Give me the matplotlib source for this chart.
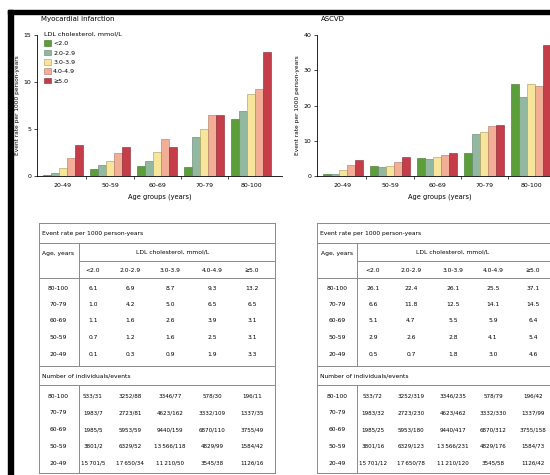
import numpy as np
import matplotlib.pyplot as plt
from matplotlib.patches import Rectangle

ages = ['20-49', '50-59', '60-69', '70-79', '80-100']
ldl = ['<2.0', '2.0-2.9', '3.0-3.9', '4.0-4.9', '≥5.0']
colors = ['#5c9e3a', '#93b8a2', '#f8e59c', '#f2ae96', '#c53d49']
edges = ['#3f6e28', '#5f7f6c', '#a89a55', '#b07560', '#842630']

# event rates per 1000 person-years (rows: age groups, cols: LDL bands)
mi_rate = np.array([
    [0.1, 0.3, 0.9, 1.9, 3.3],
    [0.7, 1.2, 1.6, 2.5, 3.1],
    [1.1, 1.6, 2.6, 3.9, 3.1],
    [1.0, 4.2, 5.0, 6.5, 6.5],
    [6.1, 6.9, 8.7, 9.3, 13.2],
])
ascvd_rate = np.array([
    [0.5, 0.7, 1.8, 3.0, 4.6],
    [2.9, 2.6, 2.8, 4.1, 5.4],
    [5.1, 4.7, 5.5, 5.9, 6.4],
    [6.6, 11.8, 12.5, 14.1, 14.5],
    [26.1, 22.4, 26.1, 25.5, 37.1],
])

individuals = np.array([
    [15701, 17650, 11210, 3545, 1126],
    [3801, 6329, 13566, 4829, 1584],
    [1985, 5953, 9440, 6870, 3755],
    [1983, 2723, 4623, 3332, 1337],
    [533, 3252, 3346, 578, 196],
])
mi_events = np.array([
    [5, 34, 50, 38, 16],
    [2, 52, 118, 99, 42],
    [5, 59, 159, 110, 49],
    [7, 81, 162, 109, 35],
    [31, 88, 77, 30, 11],
])
ascvd_events = np.array([
    [12, 78, 120, 58, 42],
    [16, 123, 231, 176, 73],
    [25, 180, 417, 312, 158],
    [32, 230, 462, 330, 99],
    [72, 319, 235, 79, 42],
])

W, H = 550, 475
fig = plt.figure(figsize=(5.5, 4.75), dpi=100)
plt.rcParams['font.family'] = ['DejaVu Sans']


def fmt_n(v):
    return f'{v:,}'.replace(',', '\u2009') if v >= 10000 else str(v)


def bar_panel(left_px, ymax, step, rates, title, ylabel_x, legend=False):
    ax = fig.add_axes([left_px / W, (H - 176) / H, 245 / W, 141 / H])
    x = np.arange(len(ages))
    bw = 0.17
    for j in range(len(ldl)):
        ax.bar(x + (j - 2) * bw, rates[:, j], bw, color=colors[j],
               edgecolor=edges[j], linewidth=0.4, label=ldl[j])
    ax.set_xlim(-0.55, 4.65)
    ax.set_ylim(0, ymax)
    ax.set_yticks(np.arange(0, ymax + 1, step))
    ax.set_xticks(x)
    ax.set_xticklabels(ages)
    ax.set_xticks(x[:-1] + 0.5, minor=True)
    ax.tick_params(axis='x', which='major', length=0, labelsize=4.5, pad=5)
    ax.tick_params(axis='x', which='minor', length=2.5, width=0.5)
    ax.tick_params(axis='y', length=2.5, width=0.5, labelsize=4.5, pad=1.5)
    for s in ['top', 'right']:
        ax.spines[s].set_visible(False)
    for s in ['left', 'bottom']:
        ax.spines[s].set_linewidth(0.6)
    ax.set_xlabel('Age groups (years)', fontsize=4.8, labelpad=4)
    fig.text(ylabel_x / W, (H - 105) / H, 'Event rate per 1000 person-years',
             rotation=90, fontsize=4.2, ha='center', va='center')
    fig.text((left_px + 4) / W, (H - 19) / H, title, fontsize=5,
             ha='left', va='center')
    if legend:
        ax.legend(title='LDL cholesterol, mmol/L', loc='upper left',
                  bbox_to_anchor=(0.02, 1.04), frameon=False, fontsize=4.5,
                  title_fontsize=4.6, handlelength=1.0, handleheight=1.0,
                  handletextpad=0.4, labelspacing=0.55, borderaxespad=0)
        ax.get_legend()._legend_box.align = 'left'
    return ax


bar_panel(37, 15, 5, mi_rate, 'Myocardial infarction', 18, legend=True)
bar_panel(317, 40, 10, ascvd_rate, 'ASCVD', 297)

# overlay in pixel coordinates for the tables and frame
ov = fig.add_axes([0, 0, 1, 1])
ov.set_xlim(0, W)
ov.set_ylim(H, 0)
ov.axis('off')


def table(x0, x1, xdiv, age_x, col_x, rates, events):
    lc, lw = '#8a8a8a', 0.7
    for y in [223, 243, 278, 366, 385, 473]:
        ov.plot([x0, x1], [y, y], color=lc, lw=lw)
    ov.plot([xdiv, x1], [261, 261], color=lc, lw=lw)
    ov.plot([x0, x0], [223, 473], color=lc, lw=lw)
    ov.plot([x1, x1], [223, 473], color=lc, lw=lw)
    ov.plot([xdiv, xdiv], [243, 366], color=lc, lw=lw)
    ov.plot([xdiv, xdiv], [385, 473], color=lc, lw=lw)
    fs = 4.3
    ov.text(x0 + 3, 234, 'Event rate per 1000 person-years', fontsize=fs,
            va='center')
    ov.text(age_x, 253, 'Age, years', fontsize=fs, va='center', ha='center')
    ov.text((col_x[0] + col_x[-1]) / 2, 252, 'LDL cholesterol, mmol/L',
            fontsize=fs, va='center', ha='center')
    for cx, lab in zip(col_x, ldl):
        ov.text(cx, 271, lab, fontsize=fs, va='center', ha='center')
    ov.text(x0 + 3, 376, 'Number of individuals/events', fontsize=fs,
            va='center')
    rows = list(range(len(ages)))[::-1]
    for k, i in enumerate(rows):
        yr = 288 + k * 16.5
        yn = 396 + k * 16.8
        ov.text(age_x, yr, ages[i], fontsize=fs, va='center', ha='center')
        ov.text(age_x, yn, ages[i], fontsize=fs, va='center', ha='center')
        for j, cx in enumerate(col_x):
            ov.text(cx, yr, f'{rates[i, j]:.1f}', fontsize=fs,
                    va='center', ha='center')
            ov.text(cx, yn, f'{fmt_n(individuals[i, j])}/{events[i, j]}',
                    fontsize=fs - 0.2, va='center', ha='center')


table(39, 275, 79, 58, [93, 130, 170, 212, 252], mi_rate, mi_events)
table(317, 562, 357, 337, [373, 411, 453, 493, 533], ascvd_rate, ascvd_events)

# black frame along the top and left edges
ov.add_patch(Rectangle((8, 10), W, 4, color='black', clip_on=False))
ov.add_patch(Rectangle((8, 10), 5, H, color='black', clip_on=False))

fig.savefig('out.png', dpi=100)
